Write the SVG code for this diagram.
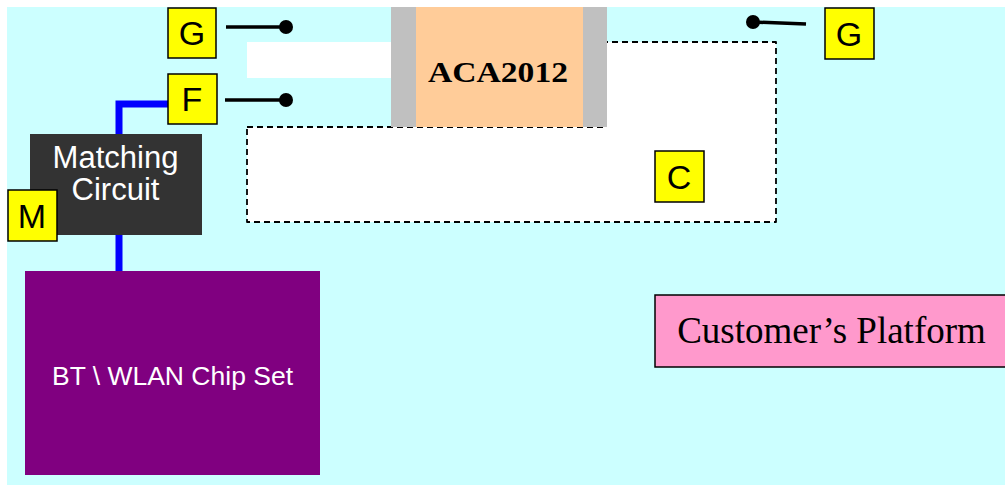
<svg xmlns="http://www.w3.org/2000/svg" width="1005" height="485" viewBox="0 0 1005 485">
<style>
.lbl{fill:#FFFF00;stroke:#000;stroke-width:1.5}
.lt{font-family:"Liberation Sans",Arial,sans-serif;font-size:34px;fill:#000;text-anchor:middle}
.lead{stroke:#000;stroke-width:3.5;fill:none}
.wt{font-family:"Liberation Sans",Arial,sans-serif;fill:#fff;text-anchor:middle}
</style>
<rect width="1005" height="485" fill="#fff"/>
<rect x="7" y="7" width="998" height="478" fill="#CCFFFF"/>
<g id="keepout-top">
<rect x="247" y="42" width="146" height="36" fill="#fff"/>
</g>
<g id="ground-clearance">
<path d="M247,127 L605,127 L605,42 L776,42 L776,222 L247,222 Z" fill="#fff" stroke="#000" stroke-width="1.8" stroke-dasharray="6,4" stroke-linejoin="round"/>
</g>
<g id="aca2012">
<rect x="391" y="7" width="216" height="120" fill="#C0C0C0"/>
<rect x="416" y="7" width="167" height="120" fill="#FFCC99"/>
<text x="498" y="82" font-family="'Liberation Serif','Times New Roman',serif" font-weight="bold" font-size="29" text-anchor="middle" textLength="140" lengthAdjust="spacingAndGlyphs">ACA2012</text>
</g>
<g id="connectors">
<path d="M119,271 L119,104 L168,104" stroke="#0000FF" stroke-width="7" fill="none"/>
<line class="lead" x1="226" y1="27" x2="286" y2="27"/>
<circle cx="286" cy="27" r="7"/>
<line class="lead" x1="225" y1="100" x2="286" y2="100"/>
<circle cx="286" cy="100" r="7"/>
<line class="lead" x1="753" y1="22" x2="806" y2="24"/>
<circle cx="753" cy="22" r="7"/>
</g>
<g id="matching-circuit">
<rect x="30" y="134" width="172" height="101" fill="#333333"/>
<text class="wt" x="115.5" y="168" font-size="31">Matching</text>
<text class="wt" x="115.5" y="200" font-size="31">Circuit</text>
</g>
<g id="chipset">
<rect x="25" y="271" width="295" height="204" fill="#800080"/>
<text class="wt" x="172.5" y="385" font-size="26.5">BT \ WLAN Chip Set</text>
</g>
<g id="platform">
<rect x="655" y="295" width="355" height="72" fill="#FF99CC" stroke="#000" stroke-width="1.5"/>
<text x="831.5" y="343" font-family="'Liberation Serif','Times New Roman',serif" font-size="37" text-anchor="middle">Customer’s Platform</text>
</g>
<g id="label-G-left">
<rect class="lbl" x="168" y="8" width="48" height="50"/>
<text class="lt" x="192" y="45">G</text>
</g>
<g id="label-F">
<rect class="lbl" x="168" y="74" width="49" height="50"/>
<text class="lt" x="192" y="111">F</text>
</g>
<g id="label-G-right">
<rect class="lbl" x="825" y="8" width="49" height="51"/>
<text class="lt" x="849" y="46">G</text>
</g>
<g id="label-C">
<rect class="lbl" x="655" y="151" width="49" height="51"/>
<text class="lt" x="679" y="189">C</text>
</g>
<g id="label-M">
<rect class="lbl" x="8" y="190" width="49" height="51"/>
<text class="lt" x="32" y="228">M</text>
</g>
</svg>
